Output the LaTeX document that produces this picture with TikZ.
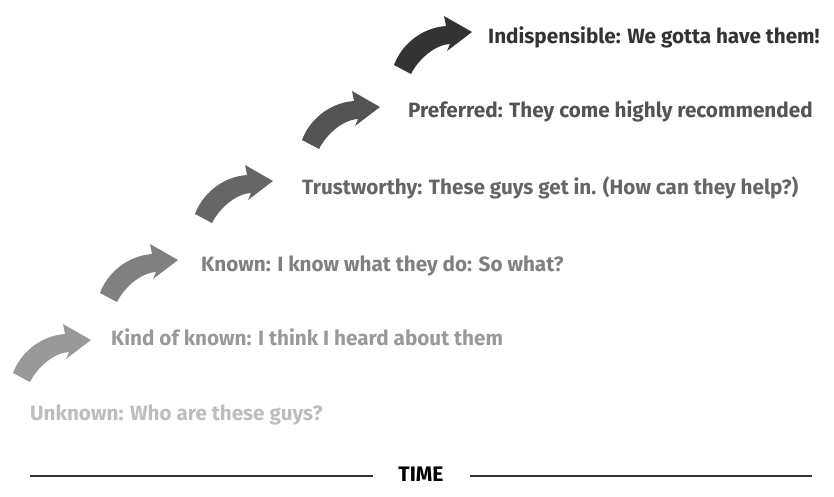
\documentclass[tikz,border=0pt]{standalone}
\usepackage{fontspec}
\setmainfont{Fira Sans}
\usepackage{tikz}
\colorlet{stagezero}{black!26}
\colorlet{stageone}{black!40}
\colorlet{stagetwo}{black!50}
\colorlet{stagethree}{black!60}
\colorlet{stagefour}{black!67}
\colorlet{stagefive}{black!80}
\tikzset{stage/.style={anchor=base west, inner sep=0pt, font=\fontsize{20.7}{24}\selectfont\bfseries}}
\begin{document}
\begin{tikzpicture}[x=1pt,y=-1pt]
		\useasboundingbox (0,0) rectangle (834,497);
		% rising arrows, tip at (\tx,\ty)
		\foreach \tx/\ty/\col in {91/340/stageone, 178/260/stagetwo, 273/181/stagethree, 380/107/stagefour, 472/32/stagefive}{
			\fill[\col, shift={(\tx,\ty)}] (-78,33) .. controls (-71,14) and (-52,-4) .. (-26,-6) -- (-28,-16) -- (0,0) -- (-25,19) -- (-22,12) .. controls (-38,13) and (-54,28) .. (-61,42) -- cycle;
		}
		\node[stage, stagezero] (unknown) at (30,420) {Unknown: Who are these guys?};
		\node[stage, stageone] (kind) at (111,345) {Kind of known: I think I heard about them};
		\node[stage, stagetwo] (known) at (201,271) {Known: I know what they do: So what?};
		\node[stage, stagethree] (trust) at (302,194) {Trustworthy: These guys get in. (How can they help?)};
		\node[stage, stagefour] (preferred) at (408,118) {Preferred: They come highly recommended};
		\node[stage, stagefive] (indisp) at (488,44) {Indispensible: We gotta have them!};
		% time axis
		\node[font=\fontsize{21}{24}\selectfont\bfseries, black, inner sep=0pt] (time) at (421,474) {TIME};
		\coordinate (tleft) at (30,476);
		\coordinate (tright) at (812,476);
		\draw[line width=2pt, stagefive] (tleft) -- (tleft -| 373,0);
		\draw[line width=2pt, stagefive] (tright) -- (tright -| 470,0);
		\end{tikzpicture}
\end{document}
